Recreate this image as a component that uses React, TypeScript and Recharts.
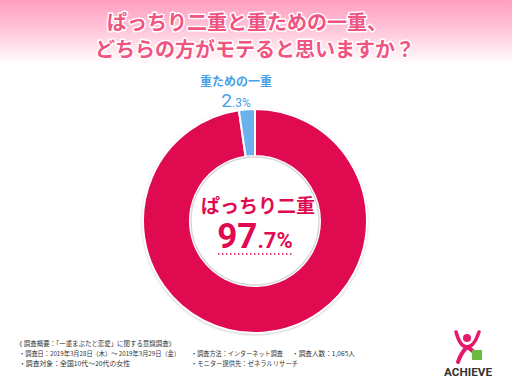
import React from 'react';
import { PieChart, Pie, Cell } from 'recharts';

const categories = ['ぱっちり二重', '重ための一重'];
const values = [97.7, 2.3];
const colors = ['#df0a50', '#6cb2ea'];
const titleLines = ['ぱっちり二重と重ための一重、', 'どちらの方がモテると思いますか？'];
const footerLines = [
  '《 調査概要：「一重まぶたと恋愛」に関する意識調査》',
  '・調査日：2019年3月28日（木）～ 2019年3月29日（金）',
  '・調査方法：インターネット調査',
  '・調査人数：1,065人',
  '・調査対象：全国10代～20代の女性',
  '・モニター提供先：ゼネラルリサーチ',
];

const data = categories.map((name, i) => ({ name, value: values[i] }));

const splitPct = (v: number) => {
  const s = v.toFixed(1);
  const [a, b] = s.split('.');
  return { int: a, dec: '.' + b + '%' };
};

const JP = '"Noto Sans CJK JP", "Noto Sans", sans-serif';

export default function App() {
  const main = splitPct(values[0]);
  const minor = splitPct(values[1]);
  const foot = (t: string, x: number, y: number, w: number) => (
    <text x={x} y={y} textLength={w} lengthAdjust="spacingAndGlyphs">{t}</text>
  );
  return (
    <div style={{ position: 'absolute', left: 0, top: 0, width: 512, height: 384, background: 'linear-gradient(#ff9dbf 0px, #ffc6da 30px, #ffffff 64px)', overflow: 'hidden', fontFamily: JP }}>
      <svg width={512} height={384} style={{ position: 'absolute', left: 0, top: 0 }}>
        <defs>
          <filter id="sh" x="-20%" y="-20%" width="140%" height="140%">
            <feGaussianBlur stdDeviation="1.2" />
          </filter>
        </defs>
        <circle cx={255} cy={222} r={113} fill="#cfcfcf" filter="url(#sh)" />
        {titleLines.map((t, i) => (
          <text key={i} x={247 + i * 8} y={30 + i * 27} textAnchor="middle" fontSize={20} fontWeight={700} fill="#ef5580" stroke="#fff" strokeWidth={3} style={{ paintOrder: 'stroke' }} strokeLinejoin="round">{t}</text>
        ))}
      </svg>
      <div style={{ position: 'absolute', left: 0, top: 0 }}>
        <PieChart width={512} height={384} margin={{ top: 0, right: 0, bottom: 0, left: 0 }}>
          <Pie data={data} dataKey="value" cx={255} cy={221} innerRadius={65} outerRadius={112} startAngle={90} endAngle={-270} stroke="#ffffff" strokeWidth={2} isAnimationActive={false} label={false} labelLine={false}>
            {data.map((d, i) => <Cell key={d.name} fill={colors[i]} />)}
          </Pie>
        </PieChart>
      </div>
      <svg width={512} height={384} style={{ position: 'absolute', left: 0, top: 0 }}>
        <circle cx={255} cy={221} r={64} fill="#fff" stroke="#d8d8d8" strokeWidth={1.5} />
        <text x={258} y={213} textAnchor="middle" fontSize={19} fontWeight={700} fill={colors[0]}>{categories[0]}</text>
        <text x={255} y={248} textAnchor="middle" fill={colors[0]} fontWeight={700} fontFamily="Roboto, sans-serif">
          <tspan fontSize={35}>{main.int}</tspan><tspan fontSize={22}>{main.dec}</tspan>
        </text>
        <line x1={218} y1={254} x2={292} y2={254} stroke={colors[0]} strokeWidth={1.5} strokeDasharray="1.5 2.5" />
        <text x={236} y={86} textAnchor="middle" fontSize={12} fontWeight={700} fill="#4aa0e6">{categories[1]}</text>
        <text x={236} y={107} textAnchor="middle" fill="#4aa0e6" fontFamily="Roboto, sans-serif">
          <tspan fontSize={19}>{minor.int}</tspan><tspan fontSize={12}>{minor.dec}</tspan>
        </text>
        <g fontSize={6.5} fill="#333">
          {foot(footerLines[0], 16, 346, 159)}
          {foot(footerLines[1], 19, 356, 161)}
          {foot(footerLines[2], 191, 356, 92)}
          {foot(footerLines[3], 292, 356, 63)}
          {foot(footerLines[4], 19, 366, 111)}
          {foot(footerLines[5], 191, 366, 107)}
        </g>
        <g>
          <circle cx={467} cy={338} r={4} fill="#e5186e" />
          <path d="M456 332 Q460 347 467 347 Q474 347 479 332" fill="none" stroke="#e5186e" strokeWidth={3.5} strokeLinecap="round" />
          <path d="M467 347 Q461 353 458 362" fill="none" stroke="#e5186e" strokeWidth={4} strokeLinecap="round" />
          <path d="M467 347 Q472 350 474 352" fill="none" stroke="#e5186e" strokeWidth={4} strokeLinecap="round" />
          <rect x={472} y={350} width={10} height={10} fill="#6cbb3c" />
          <text x={468} y={376} textAnchor="middle" fontSize={10.5} fontWeight={700} fill="#333" fontFamily="Roboto, sans-serif" textLength={48} lengthAdjust="spacingAndGlyphs">ACHIEVE</text>
        </g>
      </svg>
    </div>
  );
}
